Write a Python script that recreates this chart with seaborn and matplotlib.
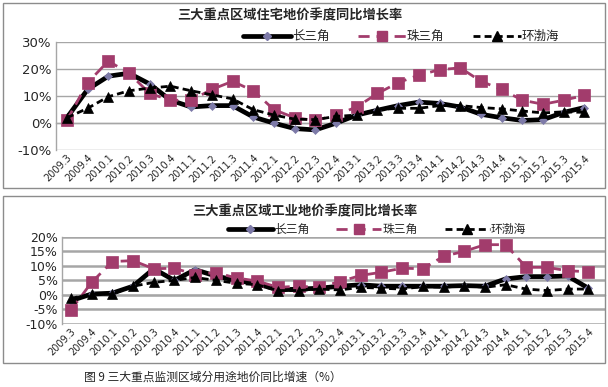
import numpy as np
import pandas as pd
import matplotlib
matplotlib.use('Agg')
import matplotlib.pyplot as plt
import seaborn as sns
from matplotlib.lines import Line2D
from matplotlib.patches import Rectangle
from matplotlib.ticker import FuncFormatter, FixedLocator

sns.set_style('white')
plt.rcParams['font.family'] = ['Noto Sans CJK SC', 'DejaVu Sans']

# quarters on the category axis
quarters = ['2009.3', '2009.4', '2010.1', '2010.2', '2010.3', '2010.4',
            '2011.1', '2011.2', '2011.3', '2011.4', '2012.1', '2012.2',
            '2012.3', '2012.4', '2013.1', '2013.2', '2013.3', '2013.4',
            '2014.1', '2014.2', '2014.3', '2014.4', '2015.1', '2015.2',
            '2015.3', '2015.4']
regions = ['长三角', '珠三角', '环渤海']

# residential land price, y/y growth (%)
res_yrd = [2, 12.5, 17.4, 18.5, 14.5, 8.5, 6, 6.5, 6.5, 2.3, 0, -2, -2.5,
           0, 3, 4.8, 6.5, 7.8, 7.3, 6, 3.3, 2, 1, 1.3, 4, 5.8]
res_prd = [1, 15, 23, 18.5, 11, 8.5, 8.5, 12.5, 15.5, 12, 5, 2, 1,
           3, 6, 11, 15, 17.8, 19.8, 20.5, 15.5, 12.5, 8.5, 7, 8.5, 10.3]
res_bh = [2, 5.5, 9.8, 12, 13, 13.7, 12, 10.5, 9, 5, 3, 1.5, 1.3,
          2.5, 3, 5, 5.5, 5.5, 6.5, 6.5, 5.8, 5.3, 4.5, 3.8, 4.2, 4]

# industrial land price, y/y growth (%)
ind_yrd = [-2, 0.3, 0.6, 3, 9, 5, 8.7, 6.5, 5, 3.8, 1.7, 2, 2.3,
           3, 3.5, 3, 3, 3, 3, 3.2, 3, 5.5, 6.3, 6.3, 6.5, 2.3]
ind_prd = [-5.2, 4.3, 11.5, 11.8, 9, 9.2, 7, 7.7, 5.8, 4.8, 2.6, 3, 2.6,
           4.6, 6.7, 7.8, 9.2, 9, 13.3, 15, 17.3, 17.3, 9.5, 9.5, 8.3, 8]
ind_bh = [-1.2, 0.3, 0.3, 3, 4.3, 5, 6, 5, 4, 3.5, 1.5, 1.5, 2,
          1.7, 2.6, 2.3, 2, 2.9, 2.6, 3.2, 2.6, 3.5, 2, 1.5, 2, 2]

pink = '#a23c6c'
diamond_c = '#7d7aa8'
grid_c = '#a6a6a6'

styles = {
    '长三角': dict(color='black', lw=3.4, marker='D', ms=4.5, mfc=diamond_c, mec=diamond_c, dashes=(None, None)),
    '珠三角': dict(color=pink, lw=2.0, marker='s', ms=8, mfc=pink, mec=pink, dashes=(4, 2.5)),
    '环渤海': dict(color='black', lw=2.0, marker='^', ms=7.5, mfc='black', mec='black', dashes=(2.5, 1.5)),
}


def make_df(yrd, prd, bh):
    rows = []
    for name, vals in zip(regions, [yrd, prd, bh]):
        for i, v in enumerate(vals):
            rows.append({'pos': i, 'quarter': quarters[i], 'region': name, 'value': v})
    return pd.DataFrame(rows)


def draw_panel(ax, df, ylim, ystep, xlim, tick_fs, grid_lw):
    for name in regions:
        st = styles[name]
        sub = df[df['region'] == name]
        sns.lineplot(data=sub, x='pos', y='value', ax=ax, color=st['color'],
                     linewidth=st['lw'], marker=st['marker'], markersize=st['ms'],
                     markerfacecolor=st['mfc'], markeredgecolor=st['mec'],
                     markeredgewidth=0.5, legend=False, zorder=3)
        if st['dashes'][0] is not None:
            ax.lines[-1].set_dashes(st['dashes'])
    ax.set_xlim(*xlim)
    ax.set_ylim(*ylim)
    ax.set_yticks(np.arange(ylim[0], ylim[1] + 0.01, ystep))
    ax.yaxis.set_major_formatter(FuncFormatter(lambda v, p: f'{v:.0f}%'))
    ax.yaxis.grid(True, color=grid_c, lw=grid_lw)
    ax.set_axisbelow(True)
    ax.tick_params(axis='y', labelsize=tick_fs, length=0, pad=3)
    ax.set_xlabel('')
    ax.set_ylabel('')
    for s in ['top', 'right']:
        ax.spines[s].set_visible(False)
    ax.spines['left'].set_color(grid_c)
    ax.spines['left'].set_linewidth(1.0)
    # category axis crossing at zero, ticks between categories
    ax.spines['bottom'].set_position(('data', 0))
    ax.spines['bottom'].set_color(grid_c)
    ax.spines['bottom'].set_linewidth(1.0)
    ax.xaxis.set_major_locator(FixedLocator(np.arange(-0.5, len(quarters), 1.0)))
    ax.tick_params(axis='x', direction='out', length=4, width=1, color=grid_c,
                   labelbottom=False)
    sec = ax.secondary_xaxis('bottom')
    sec.set_xticks(np.arange(len(quarters)))
    sec.set_xticklabels(quarters, rotation=45, ha='right', rotation_mode='anchor',
                        fontsize=7, family=['DejaVu Sans'])
    sec.tick_params(length=0, pad=2)
    sec.spines['bottom'].set_visible(False)
    for lab in ax.get_yticklabels():
        lab.set_family(['DejaVu Sans'])


def legend_handles():
    hs = []
    for name in regions:
        st = styles[name]
        h = Line2D([], [], color=st['color'], lw=st['lw'], marker=st['marker'],
                   markersize=st['ms'] * 0.9, markerfacecolor=st['mfc'],
                   markeredgecolor=st['mec'])
        if st['dashes'][0] is not None:
            h.set_dashes(st['dashes'])
        hs.append(h)
    return hs


fig = plt.figure(figsize=(6.08, 3.87), dpi=100)

# panel frames
fig.patches.append(Rectangle((0.005, 0.514), 0.99, 0.479, transform=fig.transFigure,
                             fill=False, ec='#8c8c8c', lw=1.0))
fig.patches.append(Rectangle((0.005, 0.062), 0.99, 0.431, transform=fig.transFigure,
                             fill=False, ec='#8c8c8c', lw=1.0))

# top panel: residential
ax1 = fig.add_axes([0.092, 0.612, 0.903, 0.279])
draw_panel(ax1, make_df(res_yrd, res_prd, res_bh), (-10, 30), 10, (-0.53, 25.99), 9.5, 1.0)
fig.text(0.477, 0.961, '三大重点区域住宅地价季度同比增长率', ha='center', va='center',
         fontsize=9.5, fontweight='bold')
fig.legend(legend_handles(), regions, loc='center', bbox_to_anchor=(0.66, 0.906),
           ncol=3, frameon=False, fontsize=9, handlelength=3.8, columnspacing=2.3,
           handletextpad=0.1)

# bottom panel: industrial
ax2 = fig.add_axes([0.102, 0.163, 0.893, 0.225])
draw_panel(ax2, make_df(ind_yrd, ind_prd, ind_bh), (-10, 20), 5, (-0.43, 25.8), 9, 1.8)
fig.text(0.502, 0.453, '三大重点区域工业地价季度同比增长率', ha='center', va='center',
         fontsize=9.5, fontweight='bold')
fig.legend(legend_handles(), regions, loc='center', bbox_to_anchor=(0.62, 0.407),
           ncol=3, frameon=False, fontsize=8.5, handlelength=3.8, columnspacing=2.3,
           handletextpad=0.1)

fig.text(0.350, 0.026, '图 9 三大重点监测区域分用途地价同比增速（%）', ha='center',
         va='center', fontsize=8.5)

fig.savefig('out.png', dpi=100)
